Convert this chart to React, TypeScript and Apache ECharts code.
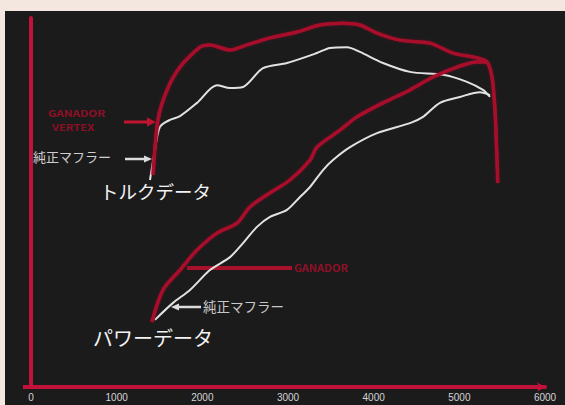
import React, { useEffect, useRef } from "react";
import * as echarts from "echarts";

const xTicks = [0, 1000, 2000, 3000, 4000, 5000, 6000];

const redTorqueRpm = [1424, 1482, 1588, 1739, 1973, 2089, 2323, 2521, 2790, 3105, 3373, 3642, 3840, 4039, 4307, 4658, 4926, 5206, 5323, 5381, 5416, 5440, 5448];
const redTorqueVal = [57.5, 72.4, 80.5, 86.7, 92.1, 92.7, 91.3, 92.7, 94.6, 96.2, 98.1, 98.6, 98.1, 95.9, 94.0, 93.2, 90.5, 89.2, 88.1, 84.0, 75.1, 61.5, 55.3];

const whiteTorqueRpm = [1389, 1447, 1506, 1623, 1739, 1938, 2171, 2323, 2475, 2708, 2988, 3338, 3490, 3689, 3840, 4109, 4424, 4809, 5089, 5276, 5358];
const whiteTorqueVal = [56.1, 64.2, 70.5, 72.4, 73.4, 77.0, 81.8, 81.0, 81.3, 86.4, 87.8, 90.5, 91.9, 92.1, 90.8, 87.8, 85.4, 84.6, 82.7, 80.5, 78.6];

const redPowerRpm = [1412, 1541, 1739, 1938, 2171, 2405, 2556, 2790, 3023, 3257, 3338, 3607, 3805, 4109, 4424, 4693, 4973, 5206, 5323];
const redPowerVal = [17.6, 26.3, 31.7, 37.1, 41.7, 44.4, 48.8, 52.6, 56.1, 61.5, 65.0, 69.6, 73.2, 77.0, 80.5, 84.0, 86.7, 88.1, 88.1];

const whitePowerRpm = [1447, 1658, 1856, 2089, 2323, 2475, 2638, 2790, 2988, 3140, 3257, 3409, 3525, 3724, 4039, 4424, 4576, 4774, 5007, 5241, 5358];
const whitePowerVal = [18.2, 22.8, 26.3, 31.7, 35.2, 39.0, 43.4, 46.1, 48.0, 51.5, 54.2, 58.8, 61.5, 65.0, 68.8, 71.5, 73.2, 77.0, 78.6, 79.9, 79.1];

const zip = (xs: number[], ys: number[]) => xs.map((x, i) => [x, ys[i]]);

const RED = "#a8112c";
const WHITE = "#e2e2e2";
const FONT = "'Noto Sans CJK JP', 'Noto Sans', sans-serif";

export default function App() {
  const ref = useRef<HTMLDivElement>(null);
  useEffect(() => {
    if (!ref.current) return;
    const chart = echarts.init(ref.current, null, { renderer: "svg" });
    const redLine = {
      color: RED,
      width: 3.5,
      shadowColor: "rgba(170,15,40,0.5)",
      shadowBlur: 2,
    };
    const whiteLine = { color: WHITE, width: 2 };
    chart.setOption({
      animation: false,
      backgroundColor: "#1c1b1c",
      grid: { left: 31, right: 20, top: 18, bottom: 18 },
      xAxis: {
        type: "value",
        min: 0,
        max: 6000,
        interval: 1000,
        axisLine: {
          show: true,
          symbol: ["none", "arrow"],
          symbolSize: [7, 8],
          lineStyle: { color: "#c0123a", width: 4 },
        },
        axisTick: { show: false },
        splitLine: { show: false },
        axisLabel: {
          color: "#d4d4d4",
          fontSize: 10,
          margin: 5,
          fontFamily: "'Liberation Sans', sans-serif",
          formatter: (v: number) => (xTicks.includes(v) ? String(v) : ""),
        },
      },
      yAxis: {
        type: "value",
        min: 0,
        max: 100,
        offset: 6,
        axisLine: { show: true, lineStyle: { color: "#c0123a", width: 4 } },
        axisTick: { show: false },
        axisLabel: { show: false },
        splitLine: { show: false },
      },
      graphic: [
        { type: "rect", shape: { x: 0, y: 0, width: 565, height: 11 }, style: { fill: "#f3e7df" } },
        { type: "rect", shape: { x: 0, y: 0, width: 5, height: 405 }, style: { fill: "#f3e7df" } },
        { type: "line", shape: { x1: 23, y1: 387, x2: 34, y2: 387 }, style: { stroke: "#c0123a", lineWidth: 4 } },
        // upper red label + arrow
        { type: "text", x: 48, y: 109, scaleX: 1.3, style: { text: "GANADOR", fill: "#8e1026", font: "bold 9px " + FONT } },
        { type: "text", x: 52, y: 123, scaleX: 1.25, style: { text: "VERTEX", fill: "#8a0f24", font: "bold 9px " + FONT } },
        { type: "line", shape: { x1: 124, y1: 122, x2: 149, y2: 122 }, style: { stroke: "#c0142f", lineWidth: 3 } },
        { type: "polygon", shape: { points: [[147, 117.5], [156, 122], [147, 126.5]] }, style: { fill: "#c0142f" } },
        // upper white label + arrow
        { type: "text", x: 33, y: 150, style: { text: "純正マフラー", fill: "#cfcfcf", font: "13px " + FONT } },
        { type: "line", shape: { x1: 125, y1: 159, x2: 146, y2: 159 }, style: { stroke: "#dcdcdc", lineWidth: 2.5 } },
        { type: "polygon", shape: { points: [[144, 155.5], [152, 159], [144, 162.5]] }, style: { fill: "#dcdcdc" } },
        { type: "text", x: 100, y: 182, style: { text: "トルクデータ", fill: "#f2f2f2", font: "18.5px " + FONT } },
        // lower red label
        { type: "line", shape: { x1: 187, y1: 268, x2: 292, y2: 268 }, style: { stroke: "#a8112c", lineWidth: 4 } },
        { type: "text", x: 294, y: 263, scaleX: 1.1, style: { text: "GANADOR", fill: "#8e1026", font: "bold 10px " + FONT } },
        // lower white label + arrow
        { type: "line", shape: { x1: 177, y1: 307, x2: 201, y2: 307 }, style: { stroke: "#dcdcdc", lineWidth: 2.5 } },
        { type: "polygon", shape: { points: [[179, 303.5], [171, 307], [179, 310.5]] }, style: { fill: "#dcdcdc" } },
        { type: "text", x: 203, y: 299, style: { text: "純正マフラー", fill: "#c8c8c8", font: "13.5px " + FONT } },
        { type: "text", x: 93, y: 327, style: { text: "パワーデータ", fill: "#f2f2f2", font: "20px " + FONT } },
      ],
      series: [
        { type: "line", data: zip(whiteTorqueRpm, whiteTorqueVal), showSymbol: false, smooth: 0.3, lineStyle: whiteLine },
        { type: "line", data: zip(whitePowerRpm, whitePowerVal), showSymbol: false, smooth: 0.3, lineStyle: whiteLine },
        { type: "line", data: zip(redTorqueRpm, redTorqueVal), showSymbol: false, smooth: 0.25, lineStyle: redLine },
        { type: "line", data: zip(redPowerRpm, redPowerVal), showSymbol: false, smooth: 0.3, lineStyle: redLine },
      ],
    });
    return () => chart.dispose();
  }, []);
  return (
    <div
      ref={ref}
      style={{ position: "fixed", left: 0, top: 0, width: 565, height: 405 }}
    />
  );
}
